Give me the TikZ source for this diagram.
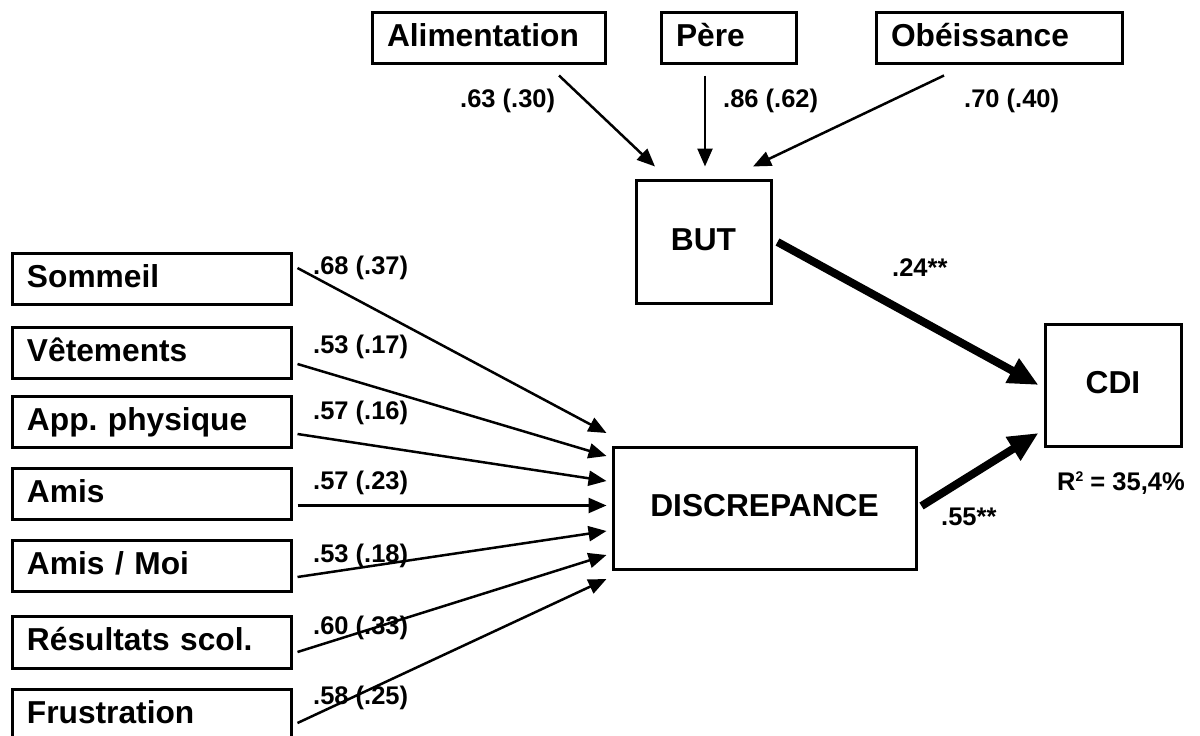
\documentclass[tikz,border=0pt]{standalone}
\usepackage{fontspec}
\setmainfont{Liberation Sans}
\usetikzlibrary{arrows.meta}
\frenchspacing
\newcommand\bxfont{\fontsize{31.7}{36}\selectfont\bfseries}
\newcommand\lbfont{\fontsize{25.5}{30}\selectfont\bfseries}
\begin{document}
\begin{tikzpicture}[x=1pt,y=-1pt,
  box/.style={draw, line width=3pt, inner xsep=15pt, inner ysep=0pt,
              text height=23pt, text depth=6pt, font=\bxfont},
  lbox/.style={box, align=left, minimum height=51pt},
  cbox/.style={box, align=center},
  coef/.style={font=\lbfont, inner sep=0pt, anchor=west},
  thinarr/.style={line width=2.5pt, -{Triangle[length=18pt,width=15pt]}},
  thickarr/.style={line width=8pt, -{Triangle[length=30pt,width=26pt]}}]
\useasboundingbox (0,0) rectangle (1200,736);
\fill[white] (0,0) rectangle (1200,736);
\clip (0,0) rectangle (1200,736);

% indicators of the goal factor
\node[lbox, text width=203pt, minimum width=233pt] (ali)  at (488.5,37.5) {Alimentation};
\node[lbox, text width=105pt, minimum width=135pt] (pere) at (728.5,37.5) {Père};
\node[lbox, text width=216pt, minimum width=246pt] (obe)  at (999,37.5)   {Obéissance};

% latent factors and outcome
\node[cbox, minimum width=135pt, minimum height=123pt] (but)  at (703.5,241.5) {BUT};
\node[cbox, minimum width=136pt, minimum height=122pt] (cdi)  at (1113,385)    {CDI};
\node[cbox, minimum width=303pt, minimum height=122pt] (disc) at (764.5,508)   {DISCREPANCE};

% indicators of the discrepancy factor
\node[lbox, text width=249pt, minimum width=279pt] (som) at (151.5,278.5) {Sommeil};
\node[lbox, text width=249pt, minimum width=279pt] (vet) at (151.5,352.5) {Vêtements};
\node[lbox, text width=249pt, minimum width=279pt] (app) at (151.5,421.5) {App. physique};
\node[lbox, text width=249pt, minimum width=279pt] (ami) at (151.5,493.5) {Amis};
\node[lbox, text width=249pt, minimum width=279pt] (moi) at (151.5,565.5) {Amis / Moi};
\node[lbox, text width=249pt, minimum width=279pt, minimum height=52pt] (res) at (151.5,642) {Résultats scol.};
\node[lbox, text width=249pt, minimum width=279pt] (fru) at (151.5,714.5) {Frustration};

% loadings on BUT
\draw[thinarr] ([shift={(70.5,11)}]ali.south)  -- ([shift={(-48.5,-12)}]but.north);
\draw[thinarr] ([shift={(-23.5,11)}]pere.south) -- ([shift={(1.5,-12)}]but.north);
\draw[thinarr] ([shift={(-55,11)}]obe.south)   -- ([shift={(49.5,-12)}]but.north);

% loadings on DISCREPANCE
\draw[thinarr] ([shift={(5,-10.5)}]som.east) -- ([shift={(-5,-75)}]disc.west);
\draw[thinarr] ([shift={(5,11.5)}]vet.east)  -- ([shift={(-5,-52)}]disc.west);
\draw[thinarr] ([shift={(5,12.5)}]app.east)  -- ([shift={(-5,-27)}]disc.west);
\draw[thinarr] ([shift={(5,12)}]ami.east)    -- ([shift={(-5,-2.5)}]disc.west);
\draw[thinarr] ([shift={(5,11.5)}]moi.east)  -- ([shift={(-5,23)}]disc.west);
\draw[thinarr] ([shift={(5,10)}]res.east)    -- ([shift={(-5,47)}]disc.west);
\draw[thinarr] ([shift={(5,8.5)}]fru.east)   -- ([shift={(-5,71)}]disc.west);

% structural paths
\draw[thickarr] ([shift={(5,0.5)}]but.east) -- ([shift={(-5,0)}]cdi.west);
\draw[thickarr] ([shift={(4,-2)}]disc.east) -- ([shift={(-5,48)}]cdi.west);

% coefficients
\node[coef] (c1) at (460,101) {.63 (.30)};
\node[coef] (c2) at (723,101) {.86 (.62)};
\node[coef] (c3) at (964,101) {.70 (.40)};
\node[coef] (c4) at (313,268) {.68 (.37)};
\node[coef] (c5) at (313,347) {.53 (.17)};
\node[coef] (c6) at (313,413) {.57 (.16)};
\node[coef] (c7) at (313,483) {.57 (.23)};
\node[coef] (c8) at (313,556) {.53 (.18)};
\node[coef] (c9) at (313,628) {.60 (.33)};
\node[coef] (c10) at (313,698) {.58 (.25)};
\node[coef] (c11) at (892,268) {.24**};
\node[coef] (c12) at (941,517) {.55**};
\node[coef] (r2) at (1057,483) {R\raisebox{9pt}{\fontsize{14}{14}\selectfont 2} = 35,4\%};
\end{tikzpicture}
\end{document}
